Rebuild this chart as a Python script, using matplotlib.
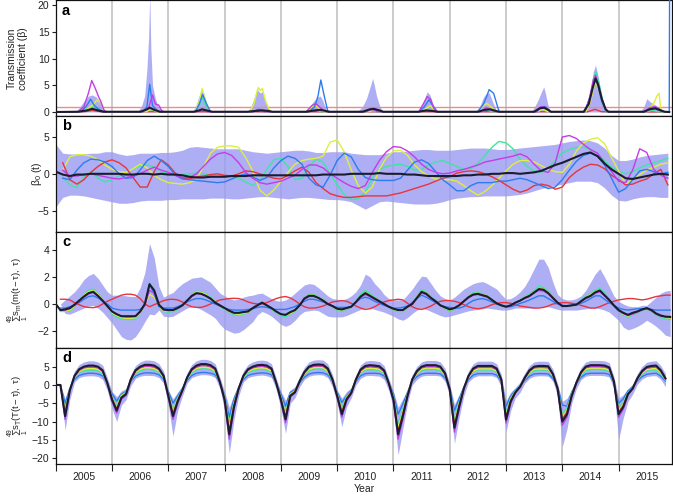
import numpy as np
import matplotlib
matplotlib.use('Agg')
import matplotlib.pyplot as plt
from matplotlib.ticker import FixedLocator, NullFormatter, FixedFormatter

nan = float('nan')

plt.rcParams['font.family'] = ['Liberation Sans', 'DejaVu Sans']
plt.rcParams['mathtext.fontset'] = 'custom'
plt.rcParams['mathtext.rm'] = 'Liberation Sans'
plt.rcParams['mathtext.it'] = 'Liberation Sans:italic'
plt.rcParams['mathtext.default'] = 'regular'

# ---------------- data ----------------
YEAR_LABELS = [str(y) for y in range(2005, 2016)]
YEAR_EDGES = list(range(2005, 2016))

# Panel a: transmission coefficient (time, value) pairs
A_BAND = [(2005.0, 0), (2005.35, 0.05), (2005.42, 0.8), (2005.5, 2.0), (2005.58, 3.0), (2005.65, 3.2), (2005.72, 2.8), (2005.78, 2.0), (2005.85, 0.5), (2005.9, 0),
          (2006.45, 0), (2006.52, 1.0), (2006.58, 3.0), (2006.62, 8.0), (2006.65, 14.0), (2006.67, 22.0), (2006.69, 12.0), (2006.72, 5.0), (2006.77, 2.5), (2006.82, 1.0), (2006.88, 0.2), (2006.92, 0),
          (2007.42, 0), (2007.48, 0.8), (2007.53, 2.5), (2007.59, 4.1), (2007.63, 3.5), (2007.68, 1.5), (2007.73, 0.3), (2007.76, 0),
          (2008.4, 0), (2008.46, 0.8), (2008.52, 2.5), (2008.58, 4.2), (2008.63, 3.6), (2008.68, 3.8), (2008.73, 2.0), (2008.78, 0.5), (2008.82, 0),
          (2009.42, 0), (2009.5, 0.8), (2009.58, 2.0), (2009.65, 2.8), (2009.7, 3.0), (2009.75, 2.0), (2009.8, 0.5), (2009.85, 0),
          (2010.35, 0), (2010.45, 1.0), (2010.52, 2.5), (2010.58, 4.5), (2010.63, 6.3), (2010.66, 5.0), (2010.7, 3.0), (2010.76, 1.0), (2010.82, 0),
          (2011.45, 0), (2011.52, 1.5), (2011.57, 3.0), (2011.6, 3.8), (2011.65, 3.2), (2011.7, 1.5), (2011.75, 0.3), (2011.8, 0),
          (2012.45, 0), (2012.53, 1.0), (2012.6, 2.8), (2012.65, 3.5), (2012.7, 3.6), (2012.76, 2.0), (2012.82, 0.5), (2012.86, 0),
          (2013.45, 0), (2013.52, 1.2), (2013.58, 2.5), (2013.63, 3.8), (2013.67, 4.7), (2013.7, 3.5), (2013.74, 1.5), (2013.78, 0.3), (2013.82, 0),
          (2014.35, 0), (2014.43, 1.0), (2014.5, 4.0), (2014.55, 7.5), (2014.59, 8.8), (2014.63, 7.0), (2014.68, 4.0), (2014.74, 1.2), (2014.8, 0),
          (2015.38, 0), (2015.45, 1.0), (2015.5, 2.5), (2015.55, 2.0), (2015.62, 1.5), (2015.7, 1.0), (2015.76, 0.3), (2015.8, 0), (2015.9, 0)]

A_RED = [(2005.0, 0), (2005.5, 0.05), (2005.65, 0.3), (2005.8, 0.05), (2014.45, 0.05), (2014.58, 0.5), (2014.7, 0.05), (2015.9, 0)]

A_GREEN = [(2005.0, 0), (2005.45, 0.05), (2005.55, 0.6), (2005.65, 1.0), (2005.75, 0.6), (2005.85, 0.05),
           (2006.55, 0.05), (2006.65, 0.5), (2006.72, 0.4), (2006.8, 0.05),
           (2007.48, 0.05), (2007.55, 1.2), (2007.6, 2.8), (2007.66, 1.2), (2007.74, 0.05),
           (2008.5, 0.05), (2008.6, 0.3), (2008.7, 0.05),
           (2009.5, 0.05), (2009.6, 0.4), (2009.7, 0.05),
           (2010.5, 0.05), (2010.6, 0.3), (2010.7, 0.05),
           (2011.5, 0.05), (2011.6, 0.8), (2011.66, 0.9), (2011.72, 0.3), (2011.78, 0.05),
           (2012.55, 0.05), (2012.65, 0.4), (2012.75, 0.05),
           (2013.55, 0.05), (2013.65, 0.5), (2013.75, 0.05),
           (2014.4, 0.05), (2014.5, 3.0), (2014.56, 6.5), (2014.6, 7.5), (2014.65, 5.5), (2014.72, 2.0), (2014.78, 0.05),
           (2015.5, 0.05), (2015.6, 0.3), (2015.7, 0.05), (2015.9, 0)]

A_YELLOW = [(2005.0, 0), (2005.45, 0.05), (2005.55, 0.5), (2005.65, 1.2), (2005.73, 2.2), (2005.8, 1.8), (2005.86, 0.3), (2005.9, 0.05),
            (2006.6, 0.05), (2006.7, 0.5), (2006.8, 0.05),
            (2007.48, 0.05), (2007.55, 2.0), (2007.6, 4.4), (2007.65, 2.5), (2007.72, 0.5), (2007.76, 0.05),
            (2008.45, 0.05), (2008.52, 1.5), (2008.58, 4.0), (2008.6, 4.6), (2008.63, 4.0), (2008.67, 4.4), (2008.73, 2.0), (2008.8, 0.3), (2008.83, 0.05),
            (2009.45, 0.05), (2009.55, 1.0), (2009.62, 1.2), (2009.7, 0.5), (2009.78, 0.05),
            (2010.55, 0.05), (2010.65, 0.3), (2010.75, 0.05),
            (2011.5, 0.05), (2011.6, 0.8), (2011.66, 1.2), (2011.72, 0.3), (2011.78, 0.05),
            (2012.5, 0.05), (2012.6, 1.2), (2012.66, 1.6), (2012.75, 0.8), (2012.82, 0.05),
            (2013.55, 0.05), (2013.65, 0.5), (2013.75, 0.05),
            (2014.42, 0.05), (2014.5, 2.0), (2014.57, 5.0), (2014.6, 5.7), (2014.65, 4.0), (2014.72, 1.5), (2014.78, 0.05),
            (2015.45, 0.05), (2015.55, 0.8), (2015.62, 1.5), (2015.68, 3.0), (2015.72, 3.5), (2015.75, 0.3), (2015.78, 0.05), (2015.9, 0)]

A_BLUE = [(2005.0, 0), (2005.45, 0.05), (2005.55, 1.2), (2005.62, 2.4), (2005.68, 1.3), (2005.75, 0.6), (2005.85, 0.05),
          (2006.55, 0.05), (2006.62, 1.0), (2006.67, 5.2), (2006.72, 1.2), (2006.8, 0.3), (2006.85, 0.05),
          (2007.48, 0.05), (2007.55, 1.5), (2007.61, 3.3), (2007.68, 1.5), (2007.75, 0.05),
          (2008.5, 0.05), (2008.6, 0.5), (2008.7, 0.3), (2008.78, 0.05),
          (2009.5, 0.05), (2009.6, 1.0), (2009.66, 3.0), (2009.71, 6.0), (2009.77, 3.0), (2009.83, 0.3), (2009.86, 0.05),
          (2010.5, 0.05), (2010.6, 0.5), (2010.7, 0.3), (2010.78, 0.05),
          (2011.45, 0.05), (2011.55, 1.0), (2011.63, 2.3), (2011.7, 1.2), (2011.78, 0.05),
          (2012.5, 0.05), (2012.6, 1.5), (2012.66, 3.0), (2012.7, 4.2), (2012.78, 3.5), (2012.85, 1.0), (2012.88, 0.05),
          (2013.55, 0.05), (2013.63, 1.0), (2013.7, 1.0), (2013.78, 0.05),
          (2014.4, 0.05), (2014.5, 3.0), (2014.57, 6.0), (2014.62, 5.5), (2014.7, 2.0), (2014.78, 0.05),
          (2015.45, 0.05), (2015.55, 0.6), (2015.65, 0.6), (2015.72, 0.3), (2015.8, 0.05), (2015.9, 0.05), (2015.906, 22.0)]

A_MAGENTA = [(2005.0, 0), (2005.4, 0.05), (2005.5, 1.0), (2005.58, 3.5), (2005.64, 5.9), (2005.7, 4.5), (2005.76, 2.9), (2005.8, 2.0), (2005.86, 0.3), (2005.9, 0.05),
             (2006.55, 0.05), (2006.65, 0.8), (2006.72, 3.2), (2006.77, 1.5), (2006.83, 1.3), (2006.88, 0.3), (2006.92, 0.05),
             (2007.5, 0.05), (2007.6, 0.5), (2007.7, 0.05),
             (2008.5, 0.05), (2008.6, 0.4), (2008.7, 0.05),
             (2009.45, 0.05), (2009.55, 1.2), (2009.62, 1.6), (2009.7, 0.8), (2009.8, 0.05),
             (2010.5, 0.05), (2010.62, 0.5), (2010.72, 0.05),
             (2011.45, 0.05), (2011.53, 1.5), (2011.6, 2.9), (2011.66, 2.4), (2011.72, 0.6), (2011.78, 0.05),
             (2012.55, 0.05), (2012.65, 0.8), (2012.75, 0.3), (2012.82, 0.05),
             (2013.55, 0.05), (2013.62, 1.0), (2013.7, 0.9), (2013.78, 0.05),
             (2014.4, 0.05), (2014.48, 2.5), (2014.55, 6.0), (2014.59, 6.9), (2014.64, 5.2), (2014.7, 2.5), (2014.77, 0.5), (2014.82, 0.05),
             (2015.45, 0.05), (2015.55, 0.8), (2015.65, 1.0), (2015.75, 0.4), (2015.8, 0.05), (2015.9, 0)]

A_BLACK = [(2005.0, 0), (2005.4, 0.05), (2005.55, 0.3), (2005.65, 0.6), (2005.75, 0.3), (2005.85, 0.05),
           (2006.5, 0.05), (2006.6, 0.4), (2006.67, 0.8), (2006.75, 0.4), (2006.85, 0.05),
           (2007.45, 0.05), (2007.55, 0.3), (2007.6, 0.5), (2007.68, 0.3), (2007.78, 0.05),
           (2008.4, 0.05), (2008.55, 0.2), (2008.65, 0.3), (2008.78, 0.2), (2008.85, 0.05),
           (2009.45, 0.05), (2009.6, 0.3), (2009.7, 0.4), (2009.8, 0.2), (2009.85, 0.05),
           (2010.45, 0.05), (2010.58, 0.5), (2010.65, 0.6), (2010.75, 0.3), (2010.82, 0.05),
           (2011.45, 0.05), (2011.58, 0.3), (2011.7, 0.2), (2011.78, 0.05),
           (2012.5, 0.05), (2012.62, 0.4), (2012.72, 0.5), (2012.82, 0.2), (2012.88, 0.05),
           (2013.5, 0.05), (2013.6, 0.7), (2013.68, 0.8), (2013.75, 0.4), (2013.8, 0.05),
           (2014.38, 0.05), (2014.47, 1.5), (2014.54, 4.5), (2014.59, 6.3), (2014.64, 5.0), (2014.7, 2.5), (2014.77, 0.5), (2014.82, 0.05),
           (2015.45, 0.05), (2015.55, 0.5), (2015.65, 0.7), (2015.75, 0.3), (2015.82, 0.05), (2015.9, 0)]

A_THRESHOLD = 1.0

# Panel b: beta_0(t), sampled every 1/8 year from 2005.0
B_HI = [4.0, 2.8, 2.7, 2.7, 2.7, 2.8, 2.8, 3.0,
        3.0, 2.7, 2.5, 2.6, 2.8, 2.8, 2.8, 2.9,
        2.9, 3.0, 3.2, 3.6, 3.7, 3.6, 3.5, 3.4,
        3.4, 3.4, 3.4, 3.2, 3.0, 2.9, 2.8, 2.9,
        3.0, 3.1, 3.2, 3.2, 3.1, 2.9, 2.9, 3.0,
        3.0, 3.0, 2.8, 2.7, 2.6, 2.6, 2.6, 2.8,
        3.0, 3.0, 3.1, 3.2, 3.3, 3.3, 3.2, 3.2,
        3.2, 3.3, 3.4, 3.5, 3.5, 3.5, 3.4, 3.3,
        3.3, 3.4, 3.5, 3.6, 3.7, 3.8, 3.9, 4.0,
        4.2, 4.4, 4.5, 4.6, 4.5, 4.2, 3.5, 2.5,
        1.8, 1.8, 2.0, 2.3, 2.5, 2.6, 2.7, 2.8]
B_LO = [-4.5, -3.2, -2.9, -2.9, -3.0, -3.2, -3.4, -3.6,
        -3.8, -4.0, -4.0, -3.9, -3.7, -3.6, -3.6, -3.6,
        -3.5, -3.5, -3.4, -3.4, -3.4, -3.4, -3.3, -3.3,
        -3.3, -3.4, -3.4, -3.3, -3.2, -3.1, -3.1, -3.2,
        -3.3, -3.4, -3.3, -3.2, -3.2, -3.3, -3.4, -3.5,
        -3.5, -3.6, -3.8, -4.3, -4.8, -4.3, -3.8, -3.7,
        -3.8, -3.9, -4.0, -4.1, -4.1, -4.1, -4.0, -3.8,
        -3.5, -3.3, -3.2, -3.1, -3.1, -3.0, -3.0, -3.0,
        -3.0, -2.9, -2.8, -2.6, -2.3, -2.0, -1.8, -1.6,
        -1.4, -1.2, -1.0, -1.0, -1.0, -1.2, -1.9, -2.9,
        -3.6, -3.7, -3.4, -3.2, -3.1, -3.1, -3.2, -3.2]
B_RED = [nan, 1.5, -0.8, -1.4, -0.8, 0.2, 1.0, 1.6,
         1.9, 1.5, 0.8, -0.5, -1.8, -1.8, 0.3, 1.9,
         1.2, 0.1, -0.6, -0.7, -0.4, -0.3, -0.1, 0.0,
         -0.2, -0.3, 0.0, 0.4, 0.3, 0.0, -0.3, -0.6,
         -0.7, -0.2, 0.4, 0.9, 0.2, -1.2, -2.0, -2.7,
         -3.0, -3.2, -3.2, -3.1, -3.0, -3.0, -3.0, -3.0,
         -2.8, -2.6, -2.3, -2.0, -1.7, -1.4, -1.0, -0.6,
         -0.4, 0.1, 0.3, 0.4, 0.3, 0.0, -0.4, -0.9,
         -1.5, -2.1, -2.5, -2.2, -1.6, -1.4, -1.6, -2.1,
         -1.8, -0.5, 0.3, 0.9, 1.3, 1.2, 0.7, -0.2,
         -0.8, -1.5, -1.4, -1.0, -0.7, 0.0, 0.6, -1.5]
B_MAGENTA = [nan, 0.5, -0.3, -0.3, -0.1, 0.0, -0.2, -0.4,
             -0.6, -0.7, -0.5, -0.3, 0.0, 0.5, 0.9, 0.5,
             0.2, -0.2, -0.5, -0.5, 0.0, 1.0, 2.0, 2.7,
             2.9, 2.5, 1.5, 0.2, -0.6, -1.2, -1.4, -1.2,
             -1.0, -0.6, -0.2, 0.6, 1.2, 1.2, 0.8, 0.0,
             -0.6, -1.2, -1.7, -2.0, -1.6, 0.2, 1.8, 3.0,
             3.7, 3.6, 3.1, 2.3, 1.3, 0.6, 0.2, 0.0,
             0.1, 0.4, 0.6, 0.9, 1.2, 1.6, 1.8, 2.0,
             2.2, 2.4, 2.7, 2.3, 1.3, 0.4, 0.2, 1.5,
             5.0, 5.2, 4.8, 4.0, 3.3, 2.8, 1.5, 0.3,
             -1.0, -1.2, 0.5, 3.4, 2.9, 0.6, -0.2, -0.6]
B_YELLOW = [nan, 0.5, 2.3, 2.6, 2.6, 2.4, 1.9, 1.2,
            0.6, 0.3, 0.2, 0.7, 1.3, 0.8, -0.2, -0.8,
            -1.2, -1.3, -1.4, -1.2, -0.8, 1.0, 2.8, 3.6,
            3.8, 3.8, 3.6, 2.2, 0.4, -2.2, -3.0, -2.2,
            -1.0, 0.2, 1.3, 1.8, 2.0, 2.1, 2.4, 4.3,
            4.6, 3.0, 0.5, -1.6, -2.6, -1.8, 0.6, 2.2,
            3.1, 3.2, 2.5, 1.2, 0.3, -0.3, -0.7, -0.8,
            -0.8, -1.0, -1.6, -2.3, -2.9, -2.4, -1.6, -0.6,
            0.4, 1.3, 1.8, 1.8, 1.6, 1.1, 0.6, 0.3,
            0.2, 1.3, 3.1, 4.2, 4.7, 4.9, 4.1, 2.2,
            0.4, -1.4, -0.8, -0.1, 0.5, 0.9, 1.3, 1.5]
B_BLUE = [nan, -0.6, -0.8, 0.5, 1.5, 2.0, 1.9, 1.6,
          1.0, 0.0, -0.6, -0.5, 0.5, 1.8, 2.4, 1.8,
          1.0, -0.2, -0.7, -0.8, -0.9, -1.0, -1.1, -1.2,
          -1.1, -0.7, -0.3, 0.0, -0.4, -0.9, -0.5, 0.8,
          1.8, 2.4, 2.1, 1.3, -0.6, -1.5, -1.8, -0.2,
          1.8, 2.8, 2.3, 0.6, -0.5, -0.8, -0.9, -0.9,
          -0.9, -0.6, 0.5, 1.6, 1.9, 1.4, 0.3, -0.8,
          -1.5, -2.3, -2.3, -1.6, -1.2, -1.2, -1.2, -1.0,
          -1.0, -0.8, -0.6, -0.8, -1.2, -1.6, -2.0, -1.8,
          -0.8, 0.5, 1.7, 2.5, 2.8, 2.4, 1.2, -0.6,
          -2.5, -2.0, -0.8, 0.4, 0.6, 0.3, 0.0, 0.2]
B_GREEN = [nan, -0.5, -1.5, -1.9, -0.5, 0.3, -0.6, -1.1,
           -0.8, -0.3, 0.2, 0.7, 1.1, 1.2, 0.9, 0.3,
           0.0, -0.1, -0.1, 0.0, 0.1, 0.0, -0.2, -0.2,
           -0.3, -0.3, -0.6, -1.1, -1.6, -1.0, 0.6, 1.9,
           2.1, 1.0, -0.8, -0.6, 1.0, 2.0, 1.6, 0.0,
           -1.5, -2.8, -3.5, -3.4, -2.5, -0.5, 0.6, 1.0,
           1.2, 1.3, 1.0, 0.5, 0.6, 1.2, 1.6, 1.8,
           1.4, 1.0, 0.6, 0.7, 1.4, 2.5, 3.6, 4.4,
           4.2, 3.4, 2.0, 1.0, 0.4, 0.2, 0.8, 1.8,
           2.8, 3.3, 3.6, 3.6, 3.3, 2.8, 1.8, 0.9,
           0.4, 0.0, 0.3, 0.8, 1.2, 1.5, 1.8, 2.1]
B_BLACK = [0.3, -0.1, -0.3, -0.1, -0.1, 0.0, 0.0, 0.0,
           0.0, 0.0, -0.1, -0.1, 0.0, 0.0, -0.1, 0.0,
           -0.1, -0.1, -0.2, -0.4, -0.5, -0.5, -0.4, -0.4,
           -0.4, -0.3, -0.3, -0.3, -0.2, -0.2, -0.2, -0.2,
           -0.2, -0.2, -0.2, -0.2, -0.2, -0.2, -0.1, -0.1,
           -0.1, -0.1, 0.0, 0.0, 0.0, 0.0, 0.1, 0.0,
           0.0, 0.0, -0.1, -0.1, -0.2, -0.3, -0.3, -0.3,
           -0.3, -0.3, -0.2, -0.2, -0.1, -0.1, 0.0, 0.0,
           0.1, 0.1, 0.0, 0.1, 0.2, 0.4, 0.8, 1.2,
           1.5, 1.9, 2.3, 2.7, 2.9, 2.4, 1.4, 0.6,
           0.0, -0.6, -0.7, -0.5, -0.3, -0.1, 0.0, -0.1]

# Panel c: humidity (m) term, monthly from 2005.0
C_HI = [nan, 0.0, 0.3, 0.6, 0.9, 1.3, 1.8, 2.1, 2.25, 1.9, 1.4, 0.9,
        0.65, 0.65, 0.65, 0.6, 0.55, 0.55, 1.2, 2.3, 4.45, 3.4, 1.3, 0.5,
        0.7, 0.85, 1.2, 1.5, 1.7, 1.9, 1.95, 2.0, 1.8, 1.6, 1.2, 0.8,
        0.6, 0.4, 0.3, 0.35, 0.5, 0.6, 0.65, 0.75, 0.8, 0.6, 0.4, 0.25,
        0.2, 0.3, 0.5, 0.8, 1.1, 1.4, 1.5, 1.45, 1.2, 0.9, 0.6, 0.4,
        0.35, 0.3, 0.4, 0.6, 0.9, 1.4, 2.2, 2.0, 1.5, 1.15, 0.7, 0.4,
        0.3, 0.3, 0.3, 0.7, 1.1, 1.6, 2.05, 2.0, 1.5, 1.0, 0.6, 0.4,
        0.3, 0.5, 0.8, 1.1, 1.3, 1.5, 1.6, 1.65, 1.5, 1.3, 1.1, 0.7,
        0.35, 0.4, 0.6, 0.9, 1.3, 1.9, 2.6, 3.3, 3.3, 2.7, 1.6, 0.7,
        0.4, 0.3, 0.3, 0.4, 0.6, 1.0, 1.6, 2.2, 2.6, 2.0, 1.3, 0.6,
        0.2, 0.0, -0.15, -0.2, -0.2, -0.1, -0.1, 0.2, 0.5, 0.8, 0.95, 1.0]
C_LO = [nan, 0.0, -0.7, -0.75, -0.6, -0.45, -0.3, -0.15, -0.1, -0.3, -0.6, -1.0,
        -1.4, -1.9, -2.4, -2.6, -2.65, -2.4, -1.9, -1.3, -0.75, -0.8, -0.45, -0.9,
        -0.95, -0.9, -0.7, -0.5, -0.3, -0.2, -0.25, -0.4, -0.6, -0.8, -1.05, -1.5,
        -1.85, -2.0, -2.15, -2.1, -1.9, -1.6, -1.3, -0.8, -0.55, -0.7, -0.9, -1.2,
        -1.5, -1.65, -1.5, -1.2, -0.8, -0.55, -0.5, -0.45, -0.5, -0.7, -0.9, -0.95,
        -0.95, -0.95, -0.85, -0.7, -0.55, -0.4, -0.3, -0.3, -0.4, -0.5, -0.6, -0.75,
        -0.9, -1.1, -1.2, -1.0, -0.7, -0.45, -0.3, -0.4, -0.55, -0.7, -0.85, -0.95,
        -0.9, -0.8, -0.7, -0.6, -0.5, -0.45, -0.4, -0.35, -0.3, -0.35, -0.4, -0.45,
        -0.45, -0.4, -0.3, -0.3, -0.3, -0.3, -0.3, -0.25, -0.2, -0.2, -0.3, -0.4,
        -0.45, -0.45, -0.45, -0.45, -0.4, -0.35, -0.3, -0.3, -0.35, -0.45, -0.6, -0.9,
        -1.2, -1.7, -1.9, -1.8, -1.65, -1.45, -1.2, -1.4, -1.65, -1.95, -2.3, -2.4]
C_RED = [nan, 0.35, 0.35, 0.3, 0.1, -0.05, -0.2, -0.25, -0.27, -0.2, 0.0, 0.2,
         0.35, 0.5, 0.65, 0.72, 0.72, 0.65, 0.4, 0.0, -0.2, -0.05, 0.1, 0.25,
         0.33, 0.35, 0.3, 0.15, -0.05, -0.2, -0.25, -0.25, -0.15, 0.0, 0.15, 0.3,
         0.35, 0.4, 0.42, 0.4, 0.3, 0.15, 0.05, 0.0, 0.0, 0.1, 0.25, 0.4,
         0.5, 0.55, 0.45, 0.25, 0.0, -0.2, -0.3, -0.3, -0.25, -0.15, 0.0, 0.15,
         0.2, 0.25, 0.2, 0.05, -0.15, -0.3, -0.4, -0.35, -0.2, 0.0, 0.15, 0.25,
         0.3, 0.35, 0.3, 0.05, -0.2, -0.35, -0.4, -0.3, -0.15, 0.05, 0.2, 0.25,
         0.25, 0.2, 0.1, -0.05, -0.2, -0.3, -0.35, -0.3, -0.2, -0.05, 0.05, 0.1,
         0.1, 0.05, -0.05, -0.15, -0.2, -0.25, -0.3, -0.3, -0.25, -0.15, 0.0, 0.05,
         0.1, 0.1, 0.05, 0.0, -0.1, -0.2, -0.3, -0.3, -0.2, -0.05, 0.1, 0.2,
         0.3, 0.35, 0.4, 0.4, 0.35, 0.3, 0.35, 0.45, 0.55, 0.6, 0.65, 0.65]
C_BLUE = [nan, -0.3, -0.3, -0.2, -0.1, 0.1, 0.35, 0.55, 0.6, 0.45, 0.2, 0.0,
          -0.3, -0.4, -0.45, -0.45, -0.45, -0.45, -0.4, -0.1, 1.5, 0.7, -0.2, -0.3,
          -0.3, -0.3, -0.2, -0.05, 0.15, 0.3, 0.4, 0.4, 0.3, 0.15, 0.0, -0.15,
          -0.3, -0.4, -0.45, -0.45, -0.45, -0.4, -0.35, -0.25, -0.2, -0.25, -0.35, -0.4,
          -0.4, -0.4, -0.3, -0.2, 0.0, 0.2, 0.35, 0.35, 0.25, 0.15, 0.0, -0.15,
          -0.25, -0.25, -0.25, -0.2, 0.1, 0.4, 0.5, 0.4, 0.2, 0.05, -0.1, -0.2,
          -0.3, -0.3, -0.25, -0.15, 0.1, 0.4, 0.65, 0.5, 0.3, 0.1, -0.1, -0.2,
          -0.25, -0.3, -0.3, -0.2, 0.05, 0.25, 0.35, 0.4, 0.3, 0.15, 0.0, -0.1,
          -0.2, -0.2, -0.1, 0.05, 0.15, 0.3, 0.45, 0.6, 0.6, 0.4, 0.2, 0.0,
          -0.1, -0.15, -0.1, -0.05, 0.05, 0.2, 0.4, 0.6, 0.6, 0.35, 0.1, -0.1,
          -0.3, -0.4, -0.45, -0.4, -0.35, -0.35, -0.35, -0.4, -0.45, -0.45, -0.45, -0.45]
C_GREEN = [nan, -0.55, -0.55, -0.5, -0.2, 0.2, 0.7, 1.0, 1.1, 0.75, 0.3, -0.2,
           -0.7, -0.95, -1.1, -1.15, -1.15, -1.1, -0.7, -0.1, 1.55, 1.05, -0.15, -0.55,
           -0.6, -0.55, -0.4, -0.1, 0.3, 0.7, 0.95, 0.9, 0.75, 0.5, 0.15, -0.15,
           -0.4, -0.6, -0.8, -0.8, -0.75, -0.65, -0.4, -0.15, 0.1, -0.15, -0.4, -0.65,
           -0.85, -0.95, -0.75, -0.55, -0.1, 0.45, 0.75, 0.7, 0.55, 0.3, 0.0, -0.2,
           -0.45, -0.5, -0.4, -0.25, 0.2, 0.7, 1.0, 0.75, 0.5, 0.25, 0.0, -0.25,
           -0.45, -0.55, -0.55, -0.25, 0.05, 0.55, 1.05, 0.9, 0.55, 0.25, -0.1, -0.35,
           -0.5, -0.4, -0.15, 0.2, 0.6, 0.8, 0.85, 0.75, 0.6, 0.35, 0.05, -0.15,
           -0.25, -0.15, 0.1, 0.3, 0.55, 0.7, 1.0, 1.3, 1.2, 0.95, 0.55, 0.1,
           -0.2, -0.2, -0.15, -0.05, 0.25, 0.55, 0.75, 1.0, 1.15, 0.8, 0.35, -0.15,
           -0.55, -0.8, -0.95, -0.8, -0.65, -0.5, -0.4, -0.55, -0.8, -1.0, -1.1, -1.15]
C_YELLOW = [nan, -0.5, -0.5, -0.45, -0.15, 0.2, 0.65, 0.9, 1.0, 0.7, 0.3, -0.15,
            -0.65, -0.85, -1.0, -1.05, -1.05, -1.0, -0.65, -0.1, 0.7, 0.5, -0.15, -0.5,
            -0.55, -0.5, -0.35, -0.1, 0.3, 0.65, 0.9, 0.85, 0.7, 0.45, 0.15, -0.1,
            -0.35, -0.55, -0.7, -0.75, -0.7, -0.6, -0.35, -0.1, 0.1, -0.1, -0.35, -0.6,
            -0.8, -0.85, -0.7, -0.5, -0.1, 0.4, 0.65, 0.65, 0.5, 0.3, 0.0, -0.15,
            -0.4, -0.45, -0.35, -0.2, 0.2, 0.6, 0.85, 0.65, 0.45, 0.2, 0.0, -0.2,
            -0.4, -0.5, -0.5, -0.2, 0.0, 0.5, 0.95, 0.8, 0.5, 0.2, -0.1, -0.3,
            -0.45, -0.35, -0.1, 0.2, 0.55, 0.75, 0.8, 0.7, 0.6, 0.3, 0.05, -0.1,
            -0.2, -0.1, 0.1, 0.3, 0.5, 0.65, 0.9, 1.15, 1.1, 0.85, 0.5, 0.1,
            -0.15, -0.15, -0.1, -0.05, 0.2, 0.5, 0.7, 0.9, 1.05, 0.7, 0.3, -0.1,
            -0.5, -0.75, -0.9, -0.75, -0.6, -0.45, -0.35, -0.5, -0.75, -0.9, -1.0, -1.05]
C_MAGENTA = [nan, -0.45, -0.45, -0.35, -0.1, 0.2, 0.5, 0.75, 0.85, 0.55, 0.2, -0.15,
             -0.55, -0.75, -0.9, -0.95, -0.95, -0.9, -0.6, -0.1, 1.0, 0.8, -0.1, -0.45,
             -0.5, -0.45, -0.3, -0.1, 0.25, 0.55, 0.75, 0.75, 0.6, 0.4, 0.1, -0.1,
             -0.3, -0.5, -0.65, -0.65, -0.6, -0.5, -0.3, -0.05, 0.1, -0.1, -0.3, -0.55,
             -0.75, -0.8, -0.6, -0.45, -0.1, 0.35, 0.55, 0.55, 0.45, 0.25, 0.0, -0.15,
             -0.35, -0.4, -0.3, -0.2, 0.15, 0.5, 0.7, 0.55, 0.35, 0.15, 0.0, -0.2,
             -0.35, -0.45, -0.45, -0.2, 0.0, 0.4, 0.8, 0.7, 0.4, 0.2, -0.1, -0.25,
             -0.4, -0.3, -0.1, 0.2, 0.45, 0.65, 0.7, 0.6, 0.5, 0.3, 0.05, -0.1,
             -0.2, -0.1, 0.1, 0.25, 0.4, 0.55, 0.8, 1.0, 0.95, 0.75, 0.4, 0.1,
             -0.15, -0.15, -0.1, -0.05, 0.2, 0.4, 0.55, 0.8, 0.9, 0.6, 0.25, -0.15,
             -0.5, -0.7, -0.85, -0.75, -0.6, -0.45, -0.35, -0.5, -0.75, -0.9, -0.95, -1.0]
C_BLACK = [0.0, -0.45, -0.4, -0.3, -0.05, 0.25, 0.55, 0.8, 0.9, 0.6, 0.25, -0.15,
           -0.55, -0.75, -0.9, -0.9, -0.9, -0.9, -0.55, 0.0, 1.45, 1.0, -0.05, -0.4,
           -0.45, -0.45, -0.3, -0.1, 0.25, 0.6, 0.8, 0.75, 0.6, 0.4, 0.1, -0.1,
           -0.3, -0.5, -0.65, -0.65, -0.6, -0.55, -0.3, -0.1, 0.1, -0.1, -0.3, -0.55,
           -0.75, -0.8, -0.6, -0.45, -0.1, 0.4, 0.6, 0.6, 0.45, 0.25, 0.0, -0.15,
           -0.35, -0.4, -0.3, -0.2, 0.15, 0.55, 0.8, 0.6, 0.4, 0.2, 0.0, -0.2,
           -0.35, -0.45, -0.45, -0.2, 0.0, 0.45, 0.9, 0.75, 0.45, 0.2, -0.1, -0.25,
           -0.4, -0.3, -0.1, 0.2, 0.5, 0.7, 0.75, 0.65, 0.55, 0.3, 0.05, -0.1,
           -0.2, -0.1, 0.1, 0.25, 0.45, 0.6, 0.85, 1.1, 1.05, 0.8, 0.45, 0.1,
           -0.15, -0.15, -0.1, -0.05, 0.2, 0.45, 0.6, 0.85, 1.0, 0.65, 0.3, -0.1,
           -0.45, -0.65, -0.8, -0.65, -0.55, -0.4, -0.3, -0.45, -0.7, -0.85, -0.93, -0.95]

# Panel d: temperature (T) term, monthly from 2005.0
D_HI = [nan, 0.0, -3.8, 0.0, 3.8, 5.6, 6.3, 6.6, 6.6, 6.3, 5.4, 2.0,
        -1.8, -3.2, -1.6, -1.0, 2.8, 5.3, 6.3, 6.8, 6.8, 6.6, 5.8, 3.8,
        -1.4, -3.8, -2.0, -0.2, 3.3, 5.6, 6.6, 7.0, 7.0, 6.7, 5.8, 2.1,
        -1.8, -6.1, -2.7, 0.3, 3.8, 5.6, 6.3, 6.7, 6.8, 6.6, 5.8, 1.9,
        -1.8, -4.2, -1.4, -0.5, 2.3, 4.8, 6.3, 6.8, 6.9, 6.8, 5.8, 2.8,
        -1.4, -3.6, -1.8, -0.8, 2.8, 5.5, 6.5, 6.7, 6.6, 6.4, 5.3, 1.8,
        -1.8, -6.1, -3.8, -1.4, 2.8, 5.1, 6.3, 6.7, 6.7, 6.7, 6.3, 4.5,
        0.3, -5.3, -2.7, 0.3, 3.8, 5.8, 6.5, 6.5, 6.5, 6.5, 5.8, 2.8,
        -4.3, -2.0, -0.7, 0.8, 3.3, 5.3, 6.3, 6.5, 6.5, 6.4, 4.3, 0.3,
        -4.5, -3.6, -1.4, 1.9, 4.8, 6.3, 6.7, 6.7, 6.7, 6.6, 6.1, 2.3,
        -3.6, -2.7, -1.1, 0.3, 3.1, 5.1, 6.2, 6.5, 6.6, 5.3, 3.1, nan]
D_LO = [nan, 0.0, -12.3, -4.0, 0.8, 2.0, 2.4, 2.5, 2.5, 2.3, 1.5, -1.5,
        -6.5, -10.0, -5.5, -4.0, -0.2, 1.8, 2.4, 2.6, 2.6, 2.5, 2.0, 0.5,
        -5.5, -14.0, -7.0, -3.0, 0.5, 2.0, 2.5, 2.8, 2.8, 2.6, 2.0, -1.0,
        -7.0, -18.7, -9.5, -3.0, 0.8, 2.0, 2.4, 2.6, 2.7, 2.5, 2.0, -1.2,
        -6.5, -13.2, -5.0, -3.5, -0.5, 1.5, 2.4, 2.7, 2.8, 2.7, 2.0, -0.5,
        -5.0, -11.4, -6.0, -3.5, 0.0, 1.8, 2.5, 2.6, 2.5, 2.4, 1.5, -1.5,
        -6.5, -19.1, -12.0, -5.0, 0.0, 1.5, 2.4, 2.6, 2.6, 2.6, 2.4, 1.0,
        -3.0, -16.0, -9.0, -3.0, 0.8, 2.0, 2.5, 2.5, 2.5, 2.5, 2.0, -0.5,
        -12.8, -7.0, -3.5, -2.0, 0.5, 1.8, 2.4, 2.5, 2.5, 2.4, 1.0, -3.0,
        -16.9, -12.0, -5.0, -1.0, 1.5, 2.4, 2.6, 2.6, 2.6, 2.5, 2.2, -1.0,
        -15.0, -9.0, -4.5, -2.5, 0.2, 1.6, 2.3, 2.5, 2.5, 1.5, -0.5, nan]
D_BLUE = [nan, 0.0, -5.0, -1.0, 1.5, 2.6, 3.0, 3.2, 3.2, 3.0, 2.5, 0.5,
          -2.4, -4.4, -2.5, -1.8, 1.0, 2.4, 3.0, 3.3, 3.3, 3.2, 2.8, 1.6,
          -1.8, -5.0, -3.0, -1.0, 1.2, 2.6, 3.2, 3.4, 3.4, 3.2, 2.8, 0.6,
          -2.8, -8.8, -3.8, -0.8, 1.5, 2.6, 3.0, 3.2, 3.3, 3.2, 2.8, 0.5,
          -2.4, -5.8, -2.0, -1.4, 0.6, 2.1, 3.0, 3.3, 3.4, 3.3, 2.8, 1.0,
          -2.0, -4.8, -3.0, -1.5, 1.0, 2.5, 3.1, 3.2, 3.2, 3.1, 2.5, 0.4,
          -2.4, -8.0, -5.2, -2.0, 1.0, 2.3, 3.0, 3.2, 3.2, 3.2, 3.0, 2.0,
          -0.8, -7.0, -3.8, -0.7, 1.5, 2.7, 3.1, 3.1, 3.1, 3.1, 2.7, 1.0,
          -5.8, -3.0, -1.4, -0.3, 1.2, 2.4, 3.0, 3.1, 3.1, 3.0, 1.8, -0.6,
          -5.5, -5.8, -2.0, 0.4, 2.1, 3.0, 3.2, 3.2, 3.2, 3.2, 2.9, 0.6,
          -5.0, -3.8, -1.6, -0.6, 1.1, 2.3, 2.9, 3.1, 3.2, 2.4, 1.1, nan]
D_GREEN = [nan, 0.0, -6.8, -1.2, 2.0, 3.4, 3.9, 4.1, 4.1, 3.9, 3.1, 0.4,
           -3.2, -5.6, -2.8, -2.0, 1.2, 3.1, 3.9, 4.3, 4.3, 4.1, 3.5, 2.0,
           -2.4, -6.8, -3.6, -1.2, 1.6, 3.4, 4.1, 4.4, 4.4, 4.2, 3.5, 0.6,
           -3.2, -10.8, -4.8, -0.8, 2.0, 3.4, 3.9, 4.2, 4.3, 4.1, 3.5, 0.5,
           -3.2, -7.5, -2.4, -1.6, 0.8, 2.7, 3.9, 4.3, 4.4, 4.3, 3.5, 1.2,
           -2.4, -6.4, -3.2, -1.8, 1.2, 3.3, 4.1, 4.2, 4.1, 4.0, 3.1, 0.4,
           -3.2, -10.8, -6.8, -2.4, 1.2, 3.0, 3.9, 4.2, 4.2, 4.2, 3.9, 2.5,
           -1.0, -9.4, -4.8, -0.8, 2.0, 3.5, 4.1, 4.1, 4.1, 4.1, 3.5, 1.2,
           -7.6, -3.6, -1.6, -0.4, 1.6, 3.1, 3.9, 4.1, 4.1, 4.0, 2.3, -0.8,
           -8.0, -6.4, -2.4, 0.5, 2.7, 3.9, 4.2, 4.2, 4.2, 4.1, 3.7, 0.8,
           -6.4, -4.8, -2.0, -0.8, 1.4, 3.0, 3.8, 4.1, 4.1, 3.1, 1.4, nan]
D_YELLOW = [nan, 0.0, -7.4, -1.3, 2.1, 3.7, 4.3, 4.5, 4.5, 4.3, 3.4, 0.4,
            -3.5, -6.1, -3.0, -2.2, 1.3, 3.4, 4.3, 4.7, 4.7, 4.5, 3.8, 2.1,
            -2.6, -7.4, -3.9, -1.3, 1.7, 3.7, 4.5, 4.8, 4.8, 4.6, 3.8, 0.7,
            -3.5, -11.7, -5.2, -0.9, 2.1, 3.7, 4.3, 4.6, 4.7, 4.5, 3.8, 0.5,
            -3.5, -8.2, -2.6, -1.7, 0.9, 3.0, 4.3, 4.7, 4.8, 4.7, 3.8, 1.3,
            -2.6, -7.0, -3.5, -1.9, 1.3, 3.6, 4.4, 4.6, 4.5, 4.3, 3.4, 0.4,
            -3.5, -11.7, -7.4, -2.6, 1.3, 3.2, 4.3, 4.6, 4.6, 4.6, 4.3, 2.7,
            -1.0, -10.2, -5.2, -0.9, 2.1, 3.8, 4.4, 4.4, 4.4, 4.4, 3.8, 1.3,
            -8.3, -3.9, -1.7, -0.4, 1.7, 3.4, 4.3, 4.4, 4.4, 4.3, 2.6, -0.9,
            -8.7, -7.0, -2.6, 0.5, 3.0, 4.3, 4.6, 4.6, 4.6, 4.5, 4.1, 0.9,
            -7.0, -5.2, -2.2, -0.9, 1.5, 3.2, 4.2, 4.4, 4.5, 3.4, 1.5, nan]
D_RED = [nan, 0.0, -7.9, -1.4, 2.3, 4.0, 4.7, 4.9, 4.9, 4.7, 3.7, 0.5,
         -3.7, -6.5, -3.3, -2.3, 1.4, 3.7, 4.7, 5.1, 5.1, 4.9, 4.2, 2.3,
         -2.8, -7.9, -4.2, -1.4, 1.9, 4.0, 4.9, 5.3, 5.3, 5.0, 4.2, 0.7,
         -3.7, -12.6, -5.6, -0.9, 2.3, 4.0, 4.7, 5.0, 5.1, 4.9, 4.2, 0.6,
         -3.7, -8.7, -2.8, -1.9, 0.9, 3.3, 4.7, 5.1, 5.2, 5.1, 4.2, 1.4,
         -2.8, -7.4, -3.7, -2.0, 1.4, 3.9, 4.8, 5.0, 4.9, 4.7, 3.7, 0.5,
         -3.7, -12.6, -7.9, -2.8, 1.4, 3.5, 4.7, 5.0, 5.0, 5.0, 4.7, 3.0,
         -1.1, -10.9, -5.6, -0.9, 2.3, 4.2, 4.8, 4.8, 4.8, 4.8, 4.2, 1.4,
         -8.8, -4.2, -1.9, -0.5, 1.9, 3.7, 4.7, 4.8, 4.8, 4.7, 2.8, -0.9,
         -9.3, -7.4, -2.8, 0.6, 3.3, 4.7, 5.0, 5.0, 5.0, 4.9, 4.5, 0.9,
         -7.4, -5.6, -2.3, -0.9, 1.7, 3.5, 4.6, 4.8, 4.9, 3.7, 1.7, nan]
D_MAGENTA = [nan, 0.0, -9.4, -1.7, 2.4, 4.1, 4.8, 5.0, 5.0, 4.8, 3.8, 0.5,
             -4.4, -7.7, -3.9, -2.8, 1.4, 3.8, 4.8, 5.2, 5.2, 5.0, 4.3, 2.4,
             -3.3, -9.4, -5.0, -1.7, 1.9, 4.1, 5.0, 5.4, 5.4, 5.1, 4.3, 0.8,
             -4.4, -14.8, -6.6, -1.1, 2.4, 4.1, 4.8, 5.1, 5.2, 5.0, 4.3, 0.6,
             -4.4, -10.3, -3.3, -2.2, 1.0, 3.3, 4.8, 5.2, 5.3, 5.2, 4.3, 1.4,
             -3.3, -8.8, -4.4, -2.4, 1.4, 4.0, 4.9, 5.1, 5.0, 4.8, 3.8, 0.5,
             -4.4, -14.8, -9.4, -3.3, 1.4, 3.6, 4.8, 5.1, 5.1, 5.1, 4.8, 3.0,
             -1.3, -12.9, -6.6, -1.1, 2.4, 4.3, 4.9, 4.9, 4.9, 4.9, 4.3, 1.4,
             -10.4, -5.0, -2.2, -0.6, 1.9, 3.8, 4.8, 4.9, 4.9, 4.8, 2.9, -1.1,
             -11.0, -8.8, -3.3, 0.6, 3.3, 4.8, 5.1, 5.1, 5.1, 5.0, 4.6, 1.0,
             -8.8, -6.6, -2.8, -1.1, 1.7, 3.6, 4.7, 4.9, 5.0, 3.8, 1.7, nan]
D_BLACK = [0.0, 0.0, -8.5, -1.5, 2.5, 4.3, 5.0, 5.3, 5.3, 5.0, 4.0, 0.5,
           -4.0, -7.0, -3.5, -2.5, 1.5, 4.0, 5.0, 5.5, 5.5, 5.3, 4.5, 2.5,
           -3.0, -8.5, -4.5, -1.5, 2.0, 4.3, 5.3, 5.7, 5.7, 5.4, 4.5, 0.8,
           -4.0, -13.5, -6.0, -1.0, 2.5, 4.3, 5.0, 5.4, 5.5, 5.3, 4.5, 0.6,
           -4.0, -9.4, -3.0, -2.0, 1.0, 3.5, 5.0, 5.5, 5.6, 5.5, 4.5, 1.5,
           -3.0, -8.0, -4.0, -2.2, 1.5, 4.2, 5.2, 5.4, 5.3, 5.1, 4.0, 0.5,
           -4.0, -13.5, -8.5, -3.0, 1.5, 3.8, 5.0, 5.4, 5.4, 5.4, 5.0, 3.2,
           -1.2, -11.7, -6.0, -1.0, 2.5, 4.5, 5.2, 5.2, 5.2, 5.2, 4.5, 1.5,
           -9.5, -4.5, -2.0, -0.5, 2.0, 4.0, 5.0, 5.2, 5.2, 5.1, 3.0, -1.0,
           -10.0, -8.0, -3.0, 0.6, 3.5, 5.0, 5.4, 5.4, 5.4, 5.3, 4.8, 1.0,
           -8.0, -6.0, -2.5, -1.0, 1.8, 3.8, 4.9, 5.2, 5.3, 4.0, 1.8, nan]

# ---------------- style ----------------
COL = {'band': '#9a9af3', 'red': '#e8343c', 'magenta': '#c43ce8', 'yellow': '#dcf03c',
       'green': '#3ce6a0', 'blue': '#2c7cf0', 'black': '#1c1c30', 'grid': '#c8c8c8'}
BAND_ALPHA = 0.8
XMIN, XMAX = 2005.0, 2015.95

fig = plt.figure(figsize=(6.73, 4.97), dpi=100)
L, W, H = 0.0828, 0.9158, 0.2334
axa = fig.add_axes([L, 0.7666, W, 0.2324])
axb = fig.add_axes([L, 0.5332, W, H])
axc = fig.add_axes([L, 0.2998, W, H])
axd = fig.add_axes([L, 0.0664, W, H])
axes = [axa, axb, axc, axd]

t_b = 2005.0 + np.arange(len(B_BLACK)) / 8.0
t_m = 2005.0 + np.arange(len(D_BLACK)) / 12.0

for ax in axes:
    ax.set_xlim(XMIN, XMAX)
    for y in YEAR_EDGES[1:]:
        ax.axvline(y, color=COL['grid'], lw=1.3, zorder=0)
    for s in ax.spines.values():
        s.set_linewidth(0.9)
        s.set_color('#111111')
    ax.tick_params(axis='y', direction='out', length=3, width=0.8, labelsize=7.5, pad=1.5, colors='#222222')
    ax.tick_params(axis='x', bottom=False, labelbottom=False)

def unzip(pairs):
    return [p[0] for p in pairs], [p[1] for p in pairs]

# panel a
tb, vb = unzip(A_BAND)
axa.fill_between(tb, 0, vb, color=COL['band'], alpha=BAND_ALPHA, lw=0, zorder=1)
axa.axhline(A_THRESHOLD, color='#f08a8a', lw=1.0, zorder=2)
for name, data in [('red', A_RED), ('green', A_GREEN), ('yellow', A_YELLOW),
                   ('blue', A_BLUE), ('magenta', A_MAGENTA)]:
    tt, vv = unzip(data)
    axa.plot(tt, vv, color=COL[name], lw=1.0, zorder=3)
tt, vv = unzip(A_BLACK)
axa.plot(tt, vv, color=COL['black'], lw=1.5, zorder=4)
axa.set_ylim(-0.75, 20.9)
axa.set_yticks([0, 5, 10, 15, 20])

# panel b
axb.fill_between(t_b, B_LO, B_HI, color=COL['band'], alpha=BAND_ALPHA, lw=0, zorder=1)
for name, data in [('green', B_GREEN), ('yellow', B_YELLOW), ('red', B_RED),
                   ('blue', B_BLUE), ('magenta', B_MAGENTA)]:
    axb.plot(t_b, data, color=COL[name], lw=1.0, zorder=3)
axb.plot(t_b, B_BLACK, color=COL['black'], lw=1.5, zorder=4)
axb.set_ylim(-7.9, 7.85)
axb.set_yticks([-5, 0, 5])

# panel c
axc.fill_between(t_m, C_LO, C_HI, color=COL['band'], alpha=BAND_ALPHA, lw=0, zorder=1)
for name, data in [('green', C_GREEN), ('yellow', C_YELLOW), ('red', C_RED),
                   ('blue', C_BLUE), ('magenta', C_MAGENTA)]:
    axc.plot(t_m, data, color=COL[name], lw=1.0, zorder=3)
axc.plot(t_m, C_BLACK, color=COL['black'], lw=1.5, zorder=4)
axc.set_ylim(-3.24, 5.3)
axc.set_yticks([-2, 0, 2, 4])

# panel d
axd.fill_between(t_m, D_LO, D_HI, color=COL['band'], alpha=BAND_ALPHA, lw=0, zorder=1)
for name, data in [('blue', D_BLUE), ('green', D_GREEN), ('yellow', D_YELLOW),
                   ('red', D_RED), ('magenta', D_MAGENTA)]:
    axd.plot(t_m, data, color=COL[name], lw=1.0, zorder=3)
axd.plot(t_m, D_BLACK, color=COL['black'], lw=1.5, zorder=4)
axd.set_ylim(-21.6, 10.1)
axd.set_yticks([-20, -15, -10, -5, 0, 5])

# x axis on bottom panel
axd.tick_params(axis='x', bottom=True, labelbottom=True)
axd.xaxis.set_major_locator(FixedLocator(YEAR_EDGES))
axd.xaxis.set_major_formatter(NullFormatter())
axd.xaxis.set_minor_locator(FixedLocator([y + 0.5 for y in YEAR_EDGES]))
axd.xaxis.set_minor_formatter(FixedFormatter(YEAR_LABELS))
axd.tick_params(axis='x', which='major', direction='out', length=5, width=0.8, colors='#222222')
axd.tick_params(axis='x', which='minor', length=0, labelsize=7.5, pad=6, colors='#222222')
axd.set_xlabel('Year', fontsize=7.5, labelpad=1, color='#222222')

# y labels
axa.set_ylabel('Transmission\ncoefficient (β)', fontsize=7.5, linespacing=1.1, color='#222222')
axa.yaxis.set_label_coords(-0.045, 0.5)
axb.set_ylabel('β$_0$ (t)', fontsize=7.5, color='#222222')
axb.yaxis.set_label_coords(-0.019, 0.5)
axc.set_ylabel(r'$\sum_{1}^{49}s_m(m(t - \tau),\ \tau)$', fontsize=6.8, color='#222222')
axc.yaxis.set_label_coords(-0.04, 0.5)
axd.set_ylabel(r'$\sum_{1}^{49}s_T(T(t - \tau),\ \tau)$', fontsize=6.8, color='#222222')
axd.yaxis.set_label_coords(-0.04, 0.5)

for ax, letter in zip(axes, 'abcd'):
    ax.text(0.01, 0.97, letter, transform=ax.transAxes, fontsize=10.5,
            fontweight='bold', va='top', ha='left', zorder=6)

fig.savefig('out.png', dpi=100)
